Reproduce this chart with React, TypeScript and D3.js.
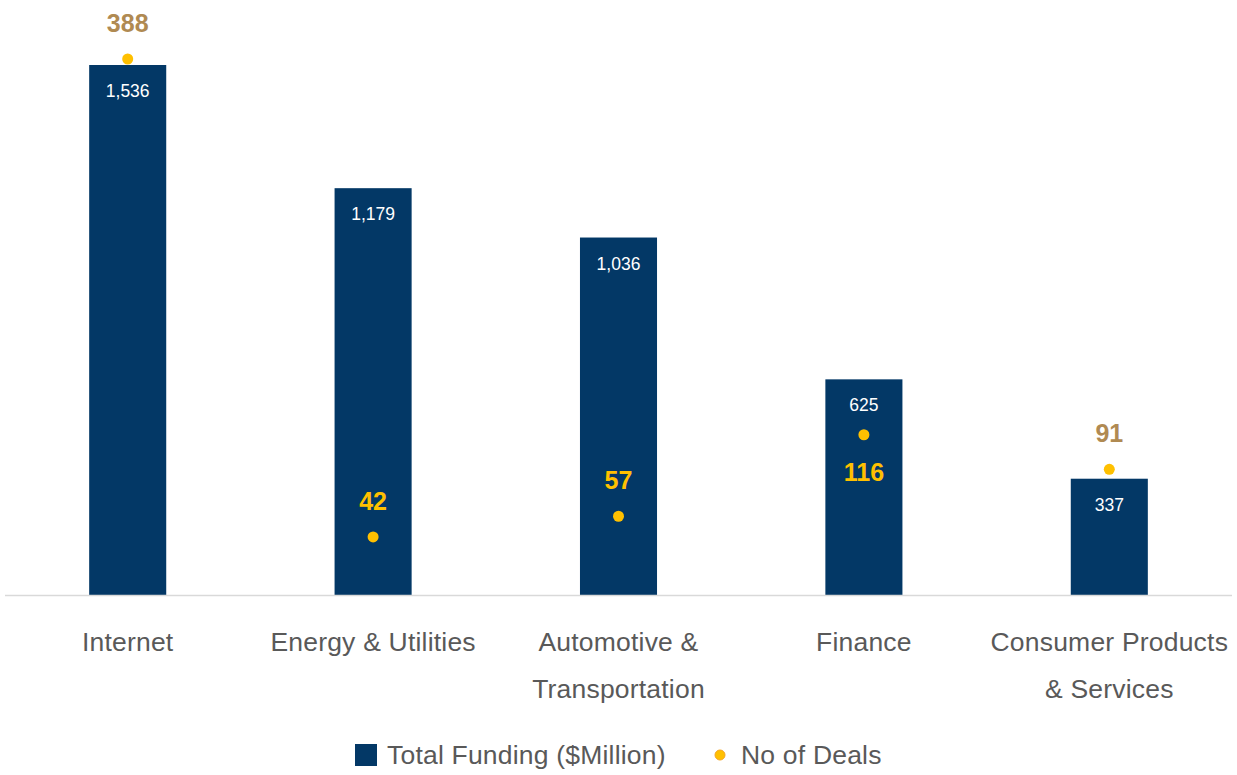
import React from "react";
import * as d3 from "d3";

const categories = ["Internet", "Energy & Utilities", "Automotive & Transportation", "Finance", "Consumer Products & Services"];
const categoryLines = [["Internet"], ["Energy & Utilities"], ["Automotive &", "Transportation"], ["Finance"], ["Consumer Products", "& Services"]];
const totalFunding = [1536, 1179, 1036, 625, 337];
const noOfDeals = [388, 42, 57, 116, 91];
const labelBelowCategories = ["Finance"];

const W = 1237, H = 775;
const FONT = "'Liberation Sans', Arial, Helvetica, sans-serif";

export default function App() {
  const x = d3.scaleBand<string>().domain(categories).range([5, 1232]).paddingInner(0.686).paddingOuter(0.343);
  const y = d3.scaleLinear().domain([0, 1536]).range([595, 65]);
  const y2 = d3.scaleLinear().domain([0, 388]).range([595, 59]);
  const fmt = d3.format(",");
  const bw = x.bandwidth();

  return (
    <svg width={W} height={H} style={{ position: "absolute", left: 0, top: 0 }} fontFamily={FONT}>
      <rect width={W} height={H} fill="#fff" />
      {categories.map((c, i) => {
        const x0 = x(c)!;
        const cx = x0 + bw / 2;
        const top = y(totalFunding[i]);
        const dy = y2(noOfDeals[i]);
        const below = labelBelowCategories.includes(c);
        const ly = below ? dy + 37 : dy - 36;
        const inside = ly > top;
        return (
          <g key={c}>
            <rect x={x0} y={top} width={bw} height={y(0) - top} fill="#033866" />
            <text x={cx} y={top + 26} fill="#fff" fontSize={17.5} textAnchor="middle" dominantBaseline="central">{fmt(totalFunding[i])}</text>
            <circle cx={cx} cy={dy} r={5.5} fill="#FFC000" />
            <text x={cx} y={ly} fill={inside ? "#FFC000" : "#B08A52"} fontSize={25} fontWeight="bold" textAnchor="middle" dominantBaseline="central">{noOfDeals[i]}</text>
            {categoryLines[i].map((l, j) => (
              <text key={j} x={cx} y={642 + j * 47} fill="#595959" fontSize={26.5} letterSpacing={0.2} textAnchor="middle" dominantBaseline="central">{l}</text>
            ))}
          </g>
        );
      })}
      <line x1={5} x2={1232} y1={595.5} y2={595.5} stroke="#d9d9d9" strokeWidth={1.5} />
      <g>
        <rect x={355} y={744} width={22} height={22} fill="#033866" />
        <text x={387} y={755} fill="#595959" fontSize={26.5} letterSpacing={0.2} dominantBaseline="central">Total Funding ($Million)</text>
        <circle cx={720} cy={755} r={5} fill="#FFC000" stroke="#F5A623" strokeWidth={1} />
        <text x={741} y={755} fill="#595959" fontSize={26.5} letterSpacing={0.2} dominantBaseline="central">No of Deals</text>
      </g>
    </svg>
  );
}
